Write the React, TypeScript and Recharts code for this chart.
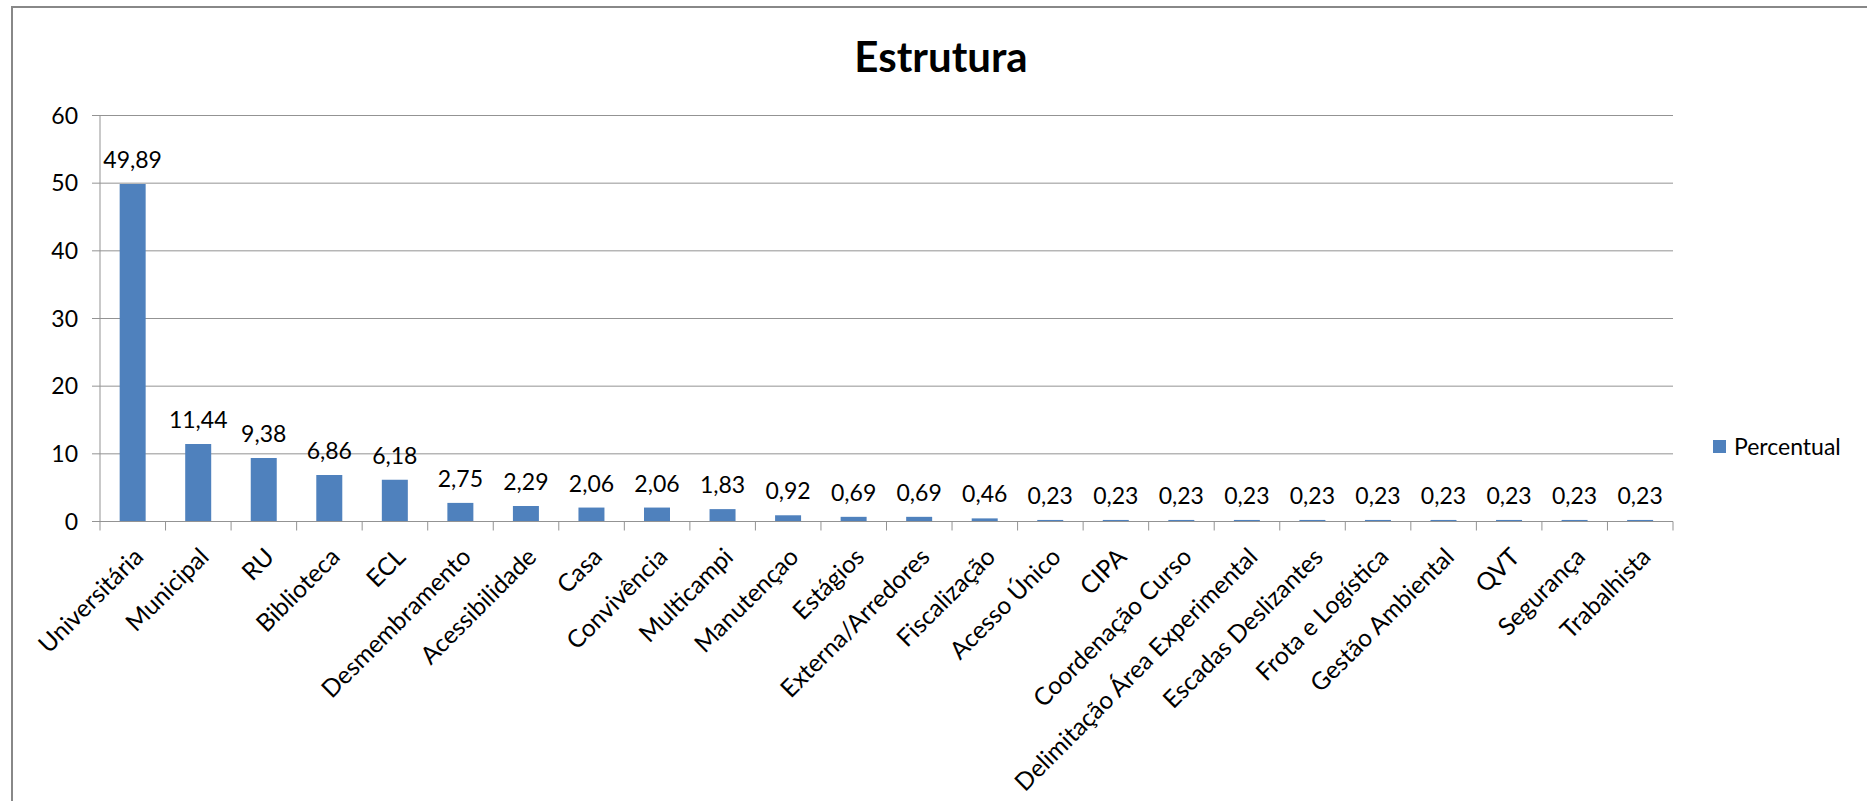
import React from 'react';
import { BarChart, Bar, XAxis, YAxis, CartesianGrid, LabelList, Legend } from 'recharts';

const categories = [
  'Universitária', 'Municipal', 'RU', 'Biblioteca', 'ECL', 'Desmembramento', 'Acessibilidade',
  'Casa', 'Convivência', 'Multicampi', 'Manutençao', 'Estágios', 'Externa/Arredores',
  'Fiscalização', 'Acesso Único', 'CIPA', 'Coordenação Curso', 'Delimitação Área Experimental',
  'Escadas Deslizantes', 'Frota e Logística', 'Gestão Ambiental', 'QVT', 'Segurança', 'Trabalhista',
];
const percentual = [
  49.89, 11.44, 9.38, 6.86, 6.18, 2.75, 2.29, 2.06, 2.06, 1.83, 0.92, 0.69, 0.69, 0.46,
  0.23, 0.23, 0.23, 0.23, 0.23, 0.23, 0.23, 0.23, 0.23, 0.23,
];
const yTicks = [0, 10, 20, 30, 40, 50, 60];
const seriesName = 'Percentual';
const chartTitle = 'Estrutura';

const data = categories.map((c, i) => ({ category: c, [seriesName]: percentual[i] }));

const W = 1867;
const H = 801;
const PLOT_LEFT = 100;
const PLOT_RIGHT = 1673;
const PLOT_TOP = 115.5;
const PLOT_BOTTOM = 521.5;
const Y_AXIS_W = 60;
const X_AXIS_H = 30;
const FONT = 'Lato, "Open Sans", sans-serif';
const GRID = '#939393';
const BAR = '#4F81BD';
const HALF_BAND = (PLOT_RIGHT - PLOT_LEFT) / categories.length / 2;

function XTick(props: any) {
  const { x, y, payload, index } = props;
  const lx = x - HALF_BAND;
  const ax = x + 12;
  const ay = y + 37;
  return (
    <g>
      <line x1={lx} x2={lx} y1={y} y2={y + 9} stroke={GRID} strokeWidth={1} />
      {index === categories.length - 1 && (
        <line x1={x + HALF_BAND} x2={x + HALF_BAND} y1={y} y2={y + 9} stroke={GRID} strokeWidth={1} />
      )}
      <text
        x={ax}
        y={ay}
        textAnchor="end"
        transform={`rotate(-45, ${ax}, ${ay})`}
        fontSize={24.5}
        fontFamily={FONT}
        fill="#000"
      >
        {payload.value}
      </text>
    </g>
  );
}

const fmt = (v: any) => Number(v).toFixed(2).replace('.', ',');

export default function App() {
  return (
    <div style={{ position: 'fixed', left: 0, top: 0, width: W, height: H, overflow: 'hidden', background: '#fff', fontFamily: FONT }}>
      <BarChart
        width={W}
        height={H}
        data={data}
        margin={{ top: PLOT_TOP, right: W - PLOT_RIGHT, left: PLOT_LEFT - Y_AXIS_W, bottom: H - PLOT_BOTTOM - X_AXIS_H }}
        barCategoryGap="30%"
      >
        <CartesianGrid vertical={false} stroke={GRID} strokeWidth={1} />
        <XAxis
          dataKey="category"
          interval={0}
          height={X_AXIS_H}
          tickLine={false}
          tickSize={0}
          tickMargin={0}
          axisLine={{ stroke: GRID, strokeWidth: 1 }}
          tick={(p: any) => <XTick {...p} />}
        />
        <YAxis
          width={Y_AXIS_W}
          domain={[0, 60]}
          ticks={yTicks}
          interval={0}
          tickSize={8}
          tickMargin={14}
          axisLine={{ stroke: GRID, strokeWidth: 1 }}
          tickLine={{ stroke: GRID, strokeWidth: 1 }}
          tick={{ fontSize: 23, fontFamily: FONT, fill: '#000' }}
        />
        <Legend
          layout="vertical"
          align="center"
          verticalAlign="middle"
          wrapperStyle={{ position: 'absolute', left: 1713, top: 432, width: 'auto', height: 'auto' }}
          content={() => (
            <div style={{ display: 'flex', alignItems: 'center', fontFamily: FONT, fontSize: 23, lineHeight: '28px', color: '#000' }}>
              <span style={{ display: 'inline-block', width: 13, height: 13, background: BAR, marginRight: 8 }} />
              {seriesName}
            </div>
          )}
        />
        <Bar dataKey={seriesName} fill={BAR} isAnimationActive={false}>
          <LabelList
            dataKey={seriesName}
            position="top"
            offset={16}
            formatter={fmt}
            style={{ fontSize: 23, fontFamily: FONT, fill: '#000' }}
          />
        </Bar>
      </BarChart>
      <svg width={W} height={H} style={{ position: 'absolute', left: 0, top: 0, pointerEvents: 'none' }}>
        <rect x={12} y={7} width={2000} height={1000} fill="none" stroke="#888" strokeWidth={2} />
        <text x={941} y={72} textAnchor="middle" fontFamily={FONT} fontWeight="bold" fontSize={42} fill="#000">
          {chartTitle}
        </text>
      </svg>
    </div>
  );
}
